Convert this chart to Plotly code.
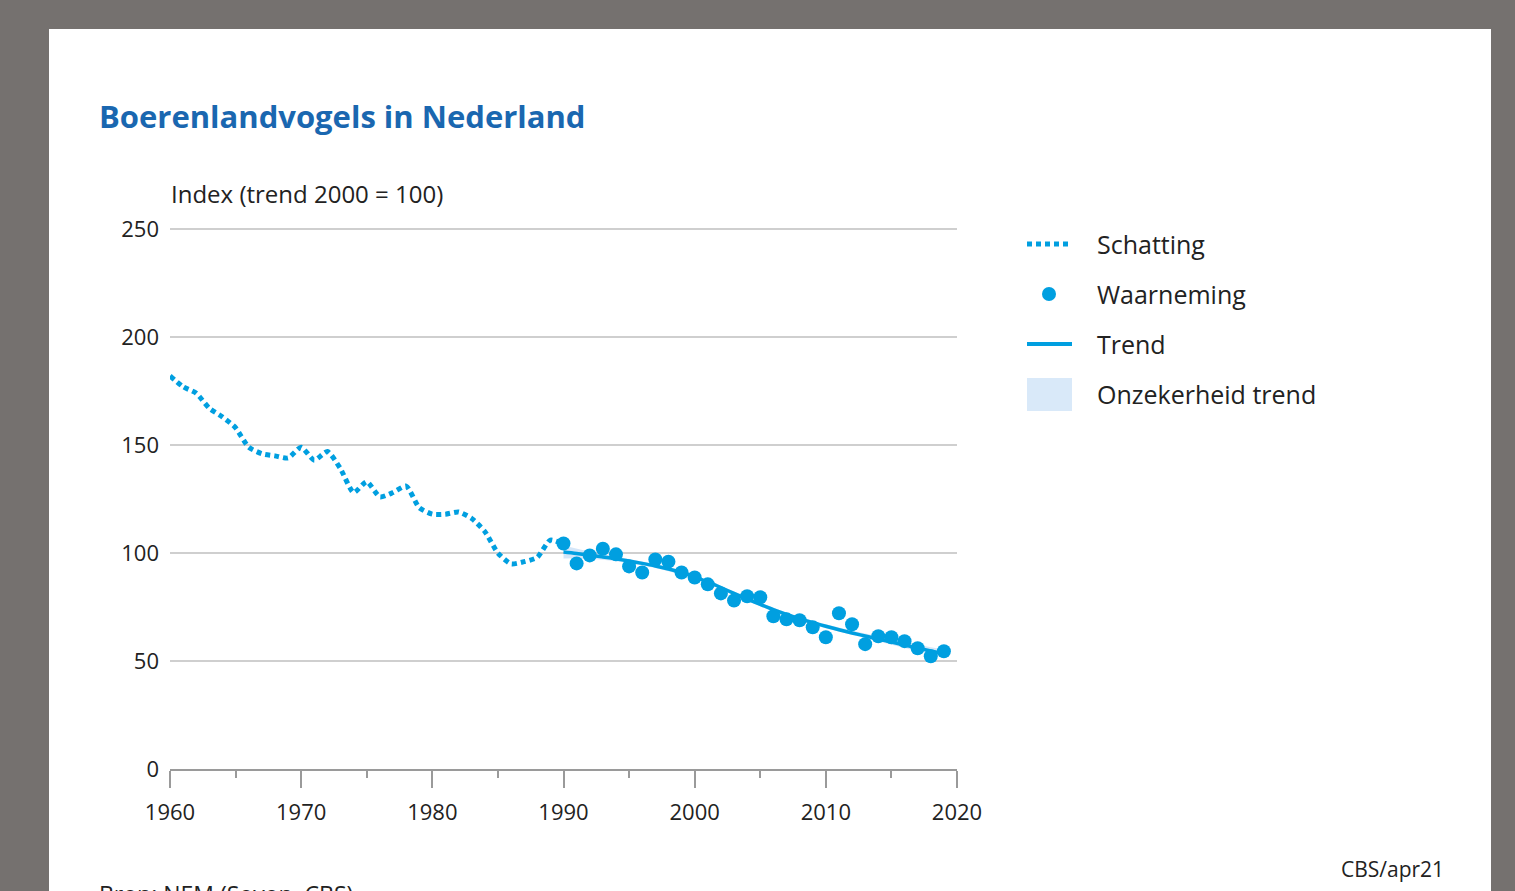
import plotly.graph_objects as go

# ---------------- data ----------------
est_years = list(range(1960, 1991))
est_values = [182, 177, 174, 167, 163, 158, 149, 146, 145, 144,
              149, 143, 147, 139, 128, 133, 126, 128, 131, 121,
              118, 118, 119, 116, 110, 100, 95, 96, 98, 106, 104]

obs_years = list(range(1990, 2020))
obs_values = [104.4, 95.2, 98.9, 102, 99.4, 93.8, 91, 97, 96, 91,
              88.7, 85.5, 81.3, 78, 80, 79.5, 70.7, 69.3, 68.9, 65.6,
              61, 72.1, 67, 57.8, 61.5, 61, 59.2, 55.9, 52.2, 54.5]

trend_years = list(range(1990, 2020))
trend_values = [100.5, 99.8, 99, 98.2, 97.3, 96.3, 95.2, 94, 92.6, 91,
                89, 86.6, 84, 81.3, 78.7, 76.2, 73.8, 71.6, 69.6, 67.8,
                66.1, 64.5, 63, 61.6, 60.2, 58.8, 57.4, 56, 54.7, 53.4]
trend_lower = [97.5, 97.6, 97.4, 96.9, 96.2, 95.3, 94.3, 93.1, 91.7, 90.1,
               88.1, 85.7, 83.1, 80.4, 77.8, 75.3, 72.9, 70.7, 68.7, 66.9,
               65.2, 63.6, 62.0, 60.5, 59.0, 57.5, 56.0, 54.5, 53.0, 51.5]
trend_upper = [103.5, 102.0, 100.6, 99.5, 98.4, 97.3, 96.1, 94.9, 93.5, 91.9,
               89.9, 87.5, 84.9, 82.2, 79.6, 77.1, 74.7, 72.5, 70.5, 68.7,
               67.0, 65.4, 64.0, 62.7, 61.4, 60.1, 58.8, 57.5, 56.4, 55.3]

x_ticks = [1960, 1970, 1980, 1990, 2000, 2010, 2020]
y_ticks = [0, 50, 100, 150, 200, 250]

legend_labels = ["Schatting", "Waarneming", "Trend", "Onzekerheid trend"]

# ---------------- layout helpers ----------------
W, H = 1515, 891
L, R, T, B = 170, 957, 228, 769   # plot-area pixel box


def px(xp):
    return (xp - L) / (R - L)


def py(yp):
    return (B - yp) / (B - T)


BLUE = "#009fe0"
BAND = "#d9e9f9"
FONT = "Open Sans"
TXT = "#222222"

fig = go.Figure()

fig.add_trace(go.Scatter(
    x=trend_years + trend_years[::-1],
    y=trend_upper + trend_lower[::-1],
    fill="toself", fillcolor="rgba(160,200,240,0.45)",
    line=dict(width=0), mode="lines",
    name=legend_labels[3], showlegend=False, hoverinfo="skip"))

fig.add_trace(go.Scatter(
    x=est_years, y=est_values, mode="lines",
    line=dict(color=BLUE, width=5, dash="5px,4px", shape="spline", smoothing=0.6),
    name=legend_labels[0], showlegend=False))

fig.add_trace(go.Scatter(
    x=trend_years, y=trend_values, mode="lines",
    line=dict(color=BLUE, width=3.5, shape="spline"),
    name=legend_labels[2], showlegend=False))

fig.add_trace(go.Scatter(
    x=obs_years, y=obs_values, mode="markers",
    marker=dict(color=BLUE, size=14),
    name=legend_labels[1], showlegend=False))

# ---------- legend (drawn as keys + labels) ----------
leg_y = [244, 294, 344, 394]
shapes = [dict(type="rect", xref="paper", yref="paper",
               x0=px(49), x1=px(1491), y0=py(1000), y1=py(29),
               fillcolor="white", line=dict(width=0), layer="below")]
shapes.append(dict(type="line", xref="paper", yref="paper",
                   x0=px(1027), x1=px(1071), y0=py(leg_y[0]), y1=py(leg_y[0]),
                   line=dict(color=BLUE, width=5, dash="5px,4px")))
shapes.append(dict(type="circle", xref="paper", yref="paper",
                   x0=px(1042), x1=px(1056), y0=py(leg_y[1] + 7), y1=py(leg_y[1] - 7),
                   fillcolor=BLUE, line=dict(width=0)))
shapes.append(dict(type="line", xref="paper", yref="paper",
                   x0=px(1027), x1=px(1072), y0=py(leg_y[2]), y1=py(leg_y[2]),
                   line=dict(color=BLUE, width=4)))
shapes.append(dict(type="rect", xref="paper", yref="paper",
                   x0=px(1027), x1=px(1072), y0=py(leg_y[3] + 17), y1=py(leg_y[3] - 16),
                   fillcolor=BAND, line=dict(width=0)))

annotations = [
    dict(text="<b>Boerenlandvogels in Nederland</b>", xref="paper", yref="paper",
         x=px(97), y=py(116), xanchor="left", yanchor="middle", showarrow=False,
         font=dict(size=31, color="#1a67b0", family=FONT)),
    dict(text="Index (trend 2000 = 100)", xref="paper", yref="paper",
         x=px(169), y=py(193), xanchor="left", yanchor="middle", showarrow=False,
         font=dict(size=24, color=TXT, family=FONT)),
    dict(text="CBS/apr21", xref="paper", yref="paper",
         x=px(1446), y=py(869), xanchor="right", yanchor="middle", showarrow=False,
         font=dict(size=21, color=TXT, family=FONT)),
    dict(text="Bron: NEM (Sovon, CBS)", xref="paper", yref="paper",
         x=px(97), y=py(894), xanchor="left", yanchor="middle", showarrow=False,
         font=dict(size=23, color=TXT, family=FONT)),
]
for lab, yy in zip(legend_labels, leg_y):
    annotations.append(dict(text=lab, xref="paper", yref="paper",
                            x=px(1095), y=py(yy), xanchor="left", yanchor="middle",
                            showarrow=False, font=dict(size=25, color=TXT, family=FONT)))

fig.update_layout(
    width=W, height=H,
    margin=dict(l=L, r=W - R, t=T, b=H - B, pad=0),
    paper_bgcolor="#75716f",
    plot_bgcolor="rgba(0,0,0,0)",
    font=dict(family=FONT, color=TXT, size=22),
    showlegend=False,
    xaxis=dict(
        range=[1960, 2020], tickvals=x_ticks, ticktext=[str(v) for v in x_ticks],
        showgrid=False, zeroline=False,
        showline=True, linecolor="#9a9a9a", linewidth=2,
        ticks="outside", ticklen=17, tickwidth=1.5, tickcolor="#9a9a9a",
        ticklabelstandoff=6,
        minor=dict(dtick=5, tick0=1960, ticks="outside", ticklen=7,
                   tickwidth=1.5, tickcolor="#9a9a9a", showgrid=False),
        tickfont=dict(size=22, color=TXT),
        fixedrange=True),
    yaxis=dict(
        range=[0, 250.5], tickvals=y_ticks, ticktext=[str(v) for v in y_ticks],
        showgrid=True, gridcolor="#cfcfcf", gridwidth=1.5,
        zeroline=False, showline=False, ticks="",
        ticklabelstandoff=10,
        tickfont=dict(size=22, color=TXT),
        fixedrange=True),
    shapes=shapes,
    annotations=annotations,
)

fig.write_html("out.html", config={"displayModeBar": False},
               post_script="document.body.style.margin='0';document.body.style.overflow='hidden';")
